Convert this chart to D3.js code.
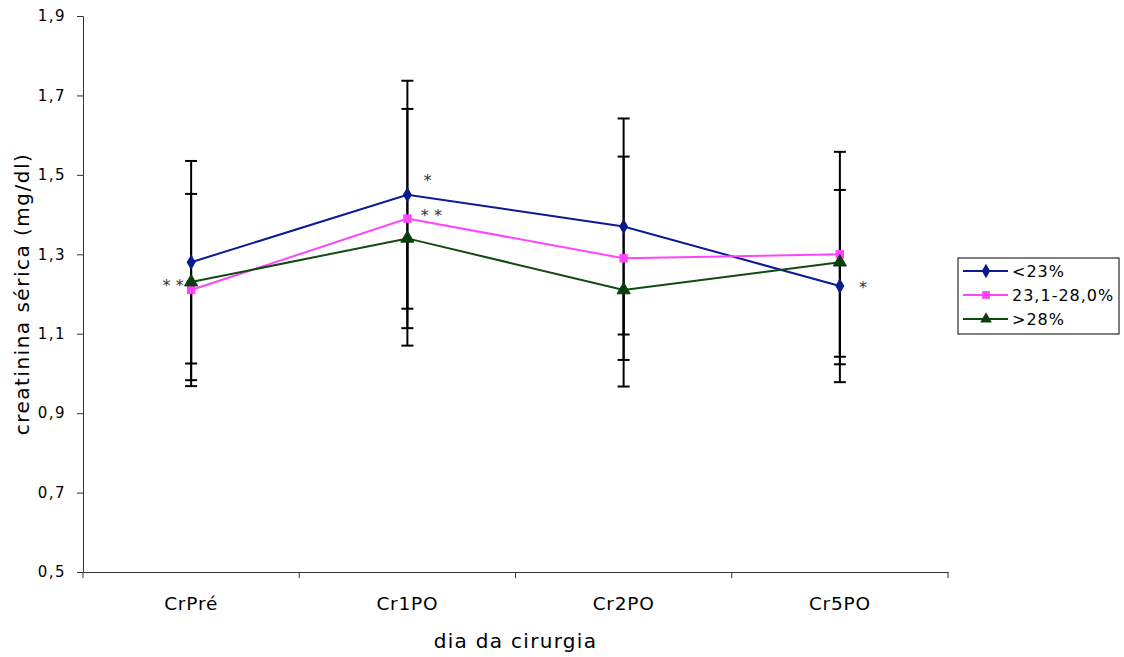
<!DOCTYPE html>
<html>
<head>
<meta charset="utf-8">
<script src="https://cdn.jsdelivr.net/npm/d3@7"></script>
<style>
  body { margin: 0; background: #fff; }
  text { font-family: "DejaVu Sans", Verdana, sans-serif; fill: #000; }
</style>
</head>
<body>
<div id="chart"></div>
<script>
var categories = ["CrPré", "Cr1PO", "Cr2PO", "Cr5PO"];
var seriesNames = ["<23%", "23,1-28,0%", ">28%"];
var meanLow = [1.28, 1.45, 1.37, 1.22];
var meanMid = [1.21, 1.39, 1.29, 1.30];
var meanHigh = [1.23, 1.34, 1.21, 1.28];
var sdLow = [0.255, 0.287, 0.272, 0.242];
var sdMid = [0.242, 0.276, 0.256, 0.258];
var sdHigh = [0.247, 0.27, 0.243, 0.257];
var yTicks = [0.5, 0.7, 0.9, 1.1, 1.3, 1.5, 1.7, 1.9];

var series = [
    {name: seriesNames[0], values: meanLow, sd: sdLow, plus: true, color: "#0c1b93", fill: "#081a8c", shape: d3.symbolDiamond},
    {name: seriesNames[1], values: meanMid, sd: sdMid, plus: true, color: "#ff44ff", fill: "#ff44ff", shape: d3.symbolSquare},
    {name: seriesNames[2], values: meanHigh, sd: sdHigh, plus: false, color: "#0f4a0f", fill: "#0d3d0d", shape: d3.symbolTriangle}
];
// star annotations: [category index, value, text, dx]
var stars = [[0, 1.23, "* *", -18], [1, 1.495, "*", 20], [1, 1.405, "* *", 24], [3, 1.225, "*", 23]];

var width = 1124, height = 657;
var margin = {left: 83, right: 176, top: 16, bottom: 85};

var svg = d3.select("#chart").append("svg")
    .attr("width", width)
    .attr("height", height);

var x = d3.scaleBand()
    .domain(categories)
    .range([margin.left, width - margin.right]);

var y = d3.scaleLinear()
    .domain([0.5, 1.9])
    .range([height - margin.bottom, margin.top]);

// y axis
var yAxis = svg.append("g")
    .attr("transform", "translate(" + margin.left + ",0)")
    .call(d3.axisLeft(y).tickValues(yTicks).tickSize(6).tickPadding(11)
        .tickFormat(function (d) { return d3.format(".1f")(d).replace(".", ","); }));
yAxis.select(".domain").attr("stroke", "#333");
yAxis.selectAll(".tick line").attr("stroke", "#333");
yAxis.selectAll("text").style("font-size", "15px").style("letter-spacing", "1.5px");

// x axis
var xAxis = svg.append("g")
    .attr("transform", "translate(0," + (height - margin.bottom) + ")")
    .call(d3.axisBottom(x).tickSize(0).tickPadding(25));
xAxis.select(".domain").attr("stroke", "#333");
xAxis.selectAll("text").style("font-size", "18.5px").style("letter-spacing", "0.8px");
var xEdges = categories.map(function (c) { return x(c); }).concat([x.range()[1]]);
xAxis.selectAll(".edge").data(xEdges).enter().append("line")
    .attr("x1", function (d) { return d; })
    .attr("x2", function (d) { return d; })
    .attr("y1", 0).attr("y2", 6)
    .attr("stroke", "#333");

// axis titles
svg.append("text")
    .attr("x", (margin.left + width - margin.right) / 2)
    .attr("y", 648)
    .attr("text-anchor", "middle")
    .style("font-size", "20px")
    .style("letter-spacing", "1.3px")
    .text("dia da cirurgia");

svg.append("text")
    .attr("transform", "translate(29," + ((margin.top + height - margin.bottom) / 2) + ") rotate(-90)")
    .attr("text-anchor", "middle")
    .style("font-size", "20px")
    .style("letter-spacing", "1.5px")
    .text("creatinina sérica (mg/dl)");

var cx = function (i) { return x(categories[i]) + x.bandwidth() / 2; };

// error bars
series.forEach(function (s) {
    var g = svg.append("g");
    s.values.forEach(function (v, i) {
        var top = s.plus ? v + s.sd[i] : v;
        var bot = v - s.sd[i];
        g.append("line")
            .attr("x1", cx(i)).attr("x2", cx(i))
            .attr("y1", y(top)).attr("y2", y(bot))
            .attr("stroke", "#000").attr("stroke-width", 2);
        var caps = s.plus ? [top, bot] : [bot];
        caps.forEach(function (c) {
            g.append("line")
                .attr("x1", cx(i) - 6).attr("x2", cx(i) + 6)
                .attr("y1", y(c)).attr("y2", y(c))
                .attr("stroke", "#000").attr("stroke-width", 2);
        });
    });
});

// lines and markers
var line = d3.line()
    .x(function (d, i) { return cx(i); })
    .y(function (d) { return y(d); });

series.forEach(function (s) {
    svg.append("path")
        .datum(s.values)
        .attr("d", line)
        .attr("fill", "none")
        .attr("stroke", s.color)
        .attr("stroke-width", 2);
    svg.selectAll(null)
        .data(s.values)
        .enter().append("path")
        .attr("d", d3.symbol().type(s.shape).size(s.shape === d3.symbolTriangle ? 75 : 70))
        .attr("transform", function (d, i) { return "translate(" + cx(i) + "," + y(d) + ")"; })
        .attr("fill", s.fill)
        .attr("stroke", s.shape === d3.symbolTriangle ? s.fill : "none");
});

// stars
svg.selectAll(".star")
    .data(stars)
    .enter().append("text")
    .attr("class", "star")
    .attr("x", function (d) { return cx(d[0]) + d[3]; })
    .attr("y", function (d) { return y(d[1]); })
    .attr("text-anchor", "middle")
    .attr("dy", "0.55em")
    .style("font-size", "16px")
    .style("fill", "#333")
    .text(function (d) { return d[2]; });

// legend
var legend = svg.append("g").attr("transform", "translate(958,258)");
legend.append("rect")
    .attr("width", 161).attr("height", 76)
    .attr("fill", "#fff").attr("stroke", "#000");
var items = legend.selectAll(".legend-item")
    .data(series)
    .enter().append("g")
    .attr("class", "legend-item")
    .attr("transform", function (d, i) { return "translate(0," + (13 + i * 24) + ")"; });
items.append("line")
    .attr("x1", 5).attr("x2", 50)
    .attr("stroke", function (d) { return d.color; })
    .attr("stroke-width", 2);
items.append("path")
    .attr("d", function (d) { return d3.symbol().type(d.shape).size(60)(); })
    .attr("transform", "translate(28,0)")
    .attr("fill", function (d) { return d.fill; });
items.append("text")
    .attr("x", 54)
    .attr("dy", "0.36em")
    .style("font-size", "16px")
    .style("letter-spacing", "1px")
    .text(function (d) { return d.name; });
</script>
</body>
</html>
